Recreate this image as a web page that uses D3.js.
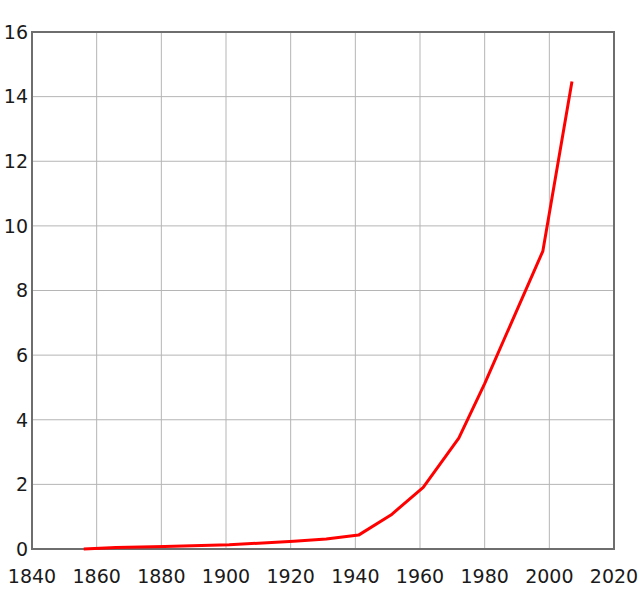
<!DOCTYPE html>
<html>
<head>
<meta charset="utf-8">
<script src="https://cdn.jsdelivr.net/npm/d3@7"></script>
<style>
    body { margin: 0; background: #fff; }
    text { font-family: "DejaVu Sans", sans-serif; font-size: 19px; fill: #1a1a1a; }
</style>
</head>
<body>
<script>
var years = [1856, 1866, 1881, 1901, 1921, 1931, 1941, 1951, 1961, 1972, 1980, 1998, 2007];
var values = [0.0, 0.05, 0.08, 0.13, 0.24, 0.31, 0.43, 1.05, 1.91, 3.43, 5.12, 9.22, 14.47];
var xTicks = [1840, 1860, 1880, 1900, 1920, 1940, 1960, 1980, 2000, 2020];
var yTicks = [0, 2, 4, 6, 8, 10, 12, 14, 16];

var width = 640,
    height = 595;

var svg = d3.select("body")
    .append('svg')
    .attr('width', width)
    .attr('height', height);

var x = d3.scaleLinear()
    .domain([1840, 2020])
    .range([32, 614]);

var y = d3.scaleLinear()
    .domain([0, 16])
    .range([549, 32]);

// grid
svg.append('g')
    .selectAll('line')
    .data(xTicks.slice(1, -1)).enter()
    .append('line')
    .attr('x1', d => x(d)).attr('x2', d => x(d))
    .attr('y1', y(16)).attr('y2', y(0))
    .attr('stroke', '#b5b5b5')
    .attr('stroke-width', 1);

svg.append('g')
    .selectAll('line')
    .data(yTicks.slice(1, -1)).enter()
    .append('line')
    .attr('x1', x(1840)).attr('x2', x(2020))
    .attr('y1', d => y(d)).attr('y2', d => y(d))
    .attr('stroke', '#b5b5b5')
    .attr('stroke-width', 1);

// frame
svg.append('rect')
    .attr('x', x(1840))
    .attr('y', y(16))
    .attr('width', x(2020) - x(1840))
    .attr('height', y(0) - y(16))
    .attr('fill', 'none')
    .attr('stroke', '#6e6e6e')
    .attr('stroke-width', 2);

// tick labels
svg.append('g')
    .selectAll('text')
    .data(xTicks).enter()
    .append('text')
    .attr('x', d => x(d))
    .attr('y', 583)
    .attr('text-anchor', 'middle')
    .text(d => d);

svg.append('g')
    .selectAll('text')
    .data(yTicks).enter()
    .append('text')
    .attr('x', 28)
    .attr('y', d => y(d))
    .attr('dy', '0.36em')
    .attr('text-anchor', 'end')
    .text(d => d);

// data line
var line = d3.line()
    .x((d, i) => x(years[i]))
    .y(d => y(d));

svg.append('path')
    .datum(values)
    .attr('d', line)
    .attr('fill', 'none')
    .attr('stroke', '#ff0000')
    .attr('stroke-width', 3)
    .attr('stroke-linejoin', 'round');
</script>
</body>
</html>
